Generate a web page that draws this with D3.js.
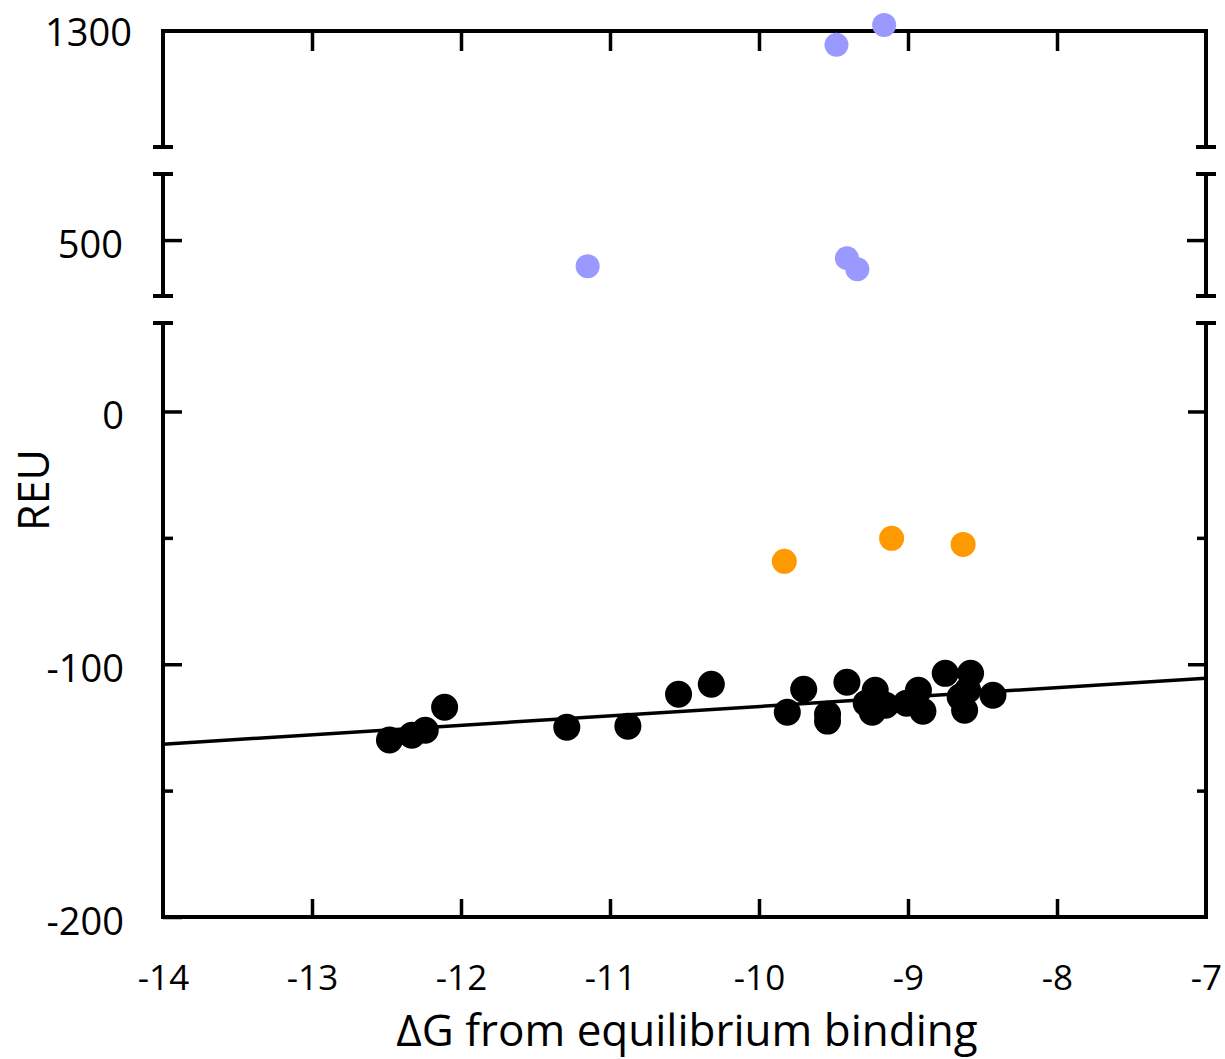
<!DOCTYPE html>
<head>
    <title>REU vs binding energy</title>
    <meta charset="utf-8" />
</head>

<style>
    body {
        margin: 0;
        background-color: #ffffff;
    }

    text {
        font-family: "Open Sans", sans-serif;
        fill: #000000;
    }

    .tick line {
        stroke: #000000;
        stroke-width: 3.5px;
    }

    .y-label text {
        font-size: 38px;
    }

    .x-label text {
        font-size: 35px;
    }

    .frame {
        fill: none;
        stroke: #000000;
        stroke-width: 4px;
    }
</style>

<body>
    <svg id="chart" width="1225" height="1059"></svg>
    <script src="https://d3js.org/d3.v7.min.js"></script>

    <script>
        // data
        var xTicks = [-14, -13, -12, -11, -10, -9, -8, -7];
        var yMajorTicks = [-200, -100, 0];
        var yMinorTicks = [-150, -50];
        var midTicks = [500];
        var topTicks = [1300];

        // broken y axis: value range shown in each piece (bottom, middle, top)
        var yBreaks = [[-200, 35], [478, 526], [1254, 1300]];

        var blackX = [-12.48, -12.33, -12.24, -12.11, -11.29, -10.88, -10.54, -10.32, -9.81, -9.70,
            -9.54, -9.54, -9.41, -9.28, -9.22, -9.24, -9.15, -9.01, -8.93, -8.90,
            -8.75, -8.58, -8.60, -8.62, -8.65, -8.43];
        var blackY = [-130.0, -128.1, -126.1, -117.0, -124.9, -124.5, -111.9, -107.9, -119.0, -109.9,
            -119.8, -122.5, -107.1, -115.4, -110.3, -119.0, -116.2, -115.4, -110.3, -118.6,
            -103.6, -103.6, -110.3, -118.2, -113.0, -112.3];

        var orangeX = [-9.83, -9.11, -8.63];
        var orangeY = [-59.3, -50.2, -52.6];

        var blueX = [-11.15, -9.41, -9.34, -9.48, -9.16];
        var blueY = [489.7, 492.9, 488.5, 1294.5, 1302.4];

        // linear fit through the black points
        var fitSlope = 3.73,
            fitIntercept = -79.4;

        // layout
        var plotLeft = 163,
            plotRight = 1206,
            plotTop = 31,
            plotBottom = 917;
        var segRanges = [[plotBottom, 323], [296, 174], [147, plotTop]];

        var svg = d3.select("#chart");

        var x = d3.scaleLinear().domain([-14, -7]).range([plotLeft, plotRight]);

        var segScales = yBreaks.map(function(d, i) {
            return d3.scaleLinear().domain(d).range(segRanges[i]);
        });

        function y(v) {
            if (v < 250) return segScales[0](v);
            if (v < 900) return segScales[1](v);
            return segScales[2](v);
        }

        // plain hyphen, no thousands separator
        function fmt(d) {
            return String(d);
        }

        function cleanAxis(g) {
            g.attr("font-family", null).attr("font-size", null);
            g.select(".domain").remove();
        }

        // bottom x axis with labels
        svg.append("g")
            .attr("class", "x-label")
            .attr("transform", "translate(0," + plotBottom + ")")
            .call(d3.axisBottom(x).tickValues(xTicks.slice(1, -1)).tickSize(-18).tickPadding(48).tickFormat(fmt))
            .call(cleanAxis);

        // the end labels (-14, -7) sit under the frame corners, no tick there
        svg.append("g")
            .attr("class", "x-label")
            .attr("transform", "translate(0," + plotBottom + ")")
            .call(d3.axisBottom(x).tickValues([xTicks[0], xTicks[xTicks.length - 1]]).tickSize(0).tickPadding(48).tickFormat(fmt))
            .call(cleanAxis);

        // top mirror ticks
        svg.append("g")
            .attr("transform", "translate(0," + plotTop + ")")
            .call(d3.axisTop(x).tickValues(xTicks.slice(1, -1)).tickSize(-20).tickFormat(""))
            .call(cleanAxis);

        // left axis, bottom piece
        svg.append("g")
            .attr("class", "y-label")
            .attr("transform", "translate(" + plotLeft + ",0)")
            .call(d3.axisLeft(segScales[0]).tickValues(yMajorTicks).tickSize(-19).tickPadding(39).tickFormat(fmt))
            .call(cleanAxis)
            .selectAll("text").attr("dy", "0.45em");

        svg.append("g")
            .attr("transform", "translate(" + plotLeft + ",0)")
            .call(d3.axisLeft(segScales[0]).tickValues(yMinorTicks).tickSize(-10).tickFormat(""))
            .call(cleanAxis);

        // left axis, middle piece
        svg.append("g")
            .attr("class", "y-label")
            .attr("transform", "translate(" + plotLeft + ",0)")
            .call(d3.axisLeft(segScales[1]).tickValues(midTicks).tickSize(-19).tickPadding(40).tickFormat(fmt))
            .call(cleanAxis)
            .selectAll("text").attr("dy", "0.45em");

        // left axis, top piece (label only, tick is the corner)
        svg.append("g")
            .attr("class", "y-label")
            .attr("transform", "translate(" + plotLeft + ",0)")
            .call(d3.axisLeft(segScales[2]).tickValues(topTicks).tickSize(0).tickPadding(31).tickFormat(fmt))
            .call(cleanAxis)
            .selectAll("text").attr("dy", "0.38em");

        // right mirror ticks
        svg.append("g")
            .attr("transform", "translate(" + plotRight + ",0)")
            .call(d3.axisRight(segScales[0]).tickValues(yMajorTicks.slice(1)).tickSize(-18).tickFormat(""))
            .call(cleanAxis);

        svg.append("g")
            .attr("transform", "translate(" + plotRight + ",0)")
            .call(d3.axisRight(segScales[0]).tickValues(yMinorTicks).tickSize(-9).tickFormat(""))
            .call(cleanAxis);

        svg.append("g")
            .attr("transform", "translate(" + plotRight + ",0)")
            .call(d3.axisRight(segScales[1]).tickValues(midTicks).tickSize(-19).tickFormat(""))
            .call(cleanAxis);

        // frame pieces
        var r0 = segRanges[0], r1 = segRanges[1], r2 = segRanges[2];
        svg.append("path")
            .attr("class", "frame")
            .attr("d", "M" + plotLeft + "," + r0[1] + "V" + r0[0] + "H" + plotRight + "V" + r0[1]);
        svg.append("path")
            .attr("class", "frame")
            .attr("d", "M" + plotLeft + "," + r2[0] + "V" + r2[1] + "H" + plotRight + "V" + r2[0]);
        [plotLeft, plotRight].forEach(function(px) {
            svg.append("line")
                .attr("class", "frame")
                .attr("x1", px).attr("x2", px)
                .attr("y1", r1[0]).attr("y2", r1[1]);
        });

        // caps at the breaks
        var capEnds = [r0[1], r1[0], r1[1], r2[0]];
        [plotLeft, plotRight].forEach(function(px) {
            svg.selectAll(null)
                .data(capEnds)
                .enter().append("line")
                .attr("class", "frame")
                .attr("x1", px - 10).attr("x2", px + 10)
                .attr("y1", function(d) { return d; })
                .attr("y2", function(d) { return d; });
        });

        // fit line
        var fitLine = d3.line()
            .x(function(d) { return x(d); })
            .y(function(d) { return y(fitIntercept + fitSlope * d); });

        svg.append("path")
            .datum(x.domain())
            .attr("d", fitLine)
            .attr("fill", "none")
            .attr("stroke", "#000000")
            .attr("stroke-width", 3.5);

        // points
        function drawPoints(xs, ys, color, r) {
            svg.append("g").selectAll("circle")
                .data(d3.zip(xs, ys))
                .enter().append("circle")
                .attr("cx", function(d) { return x(d[0]); })
                .attr("cy", function(d) { return y(d[1]); })
                .attr("r", r)
                .attr("fill", color);
        }

        drawPoints(blackX, blackY, "#000000", 13.5);
        drawPoints(orangeX, orangeY, "#ff9900", 12.5);
        drawPoints(blueX, blueY, "#9999ff", 12);

        // axis titles
        svg.append("text")
            .attr("x", 687)
            .attr("y", 1046)
            .attr("text-anchor", "middle")
            .attr("font-size", "44px")
            .text("ΔG from equilibrium binding");

        svg.append("text")
            .attr("transform", "translate(49,490) rotate(-90)")
            .attr("text-anchor", "middle")
            .attr("font-size", "43px")
            .text("REU");
    </script>
</body>
